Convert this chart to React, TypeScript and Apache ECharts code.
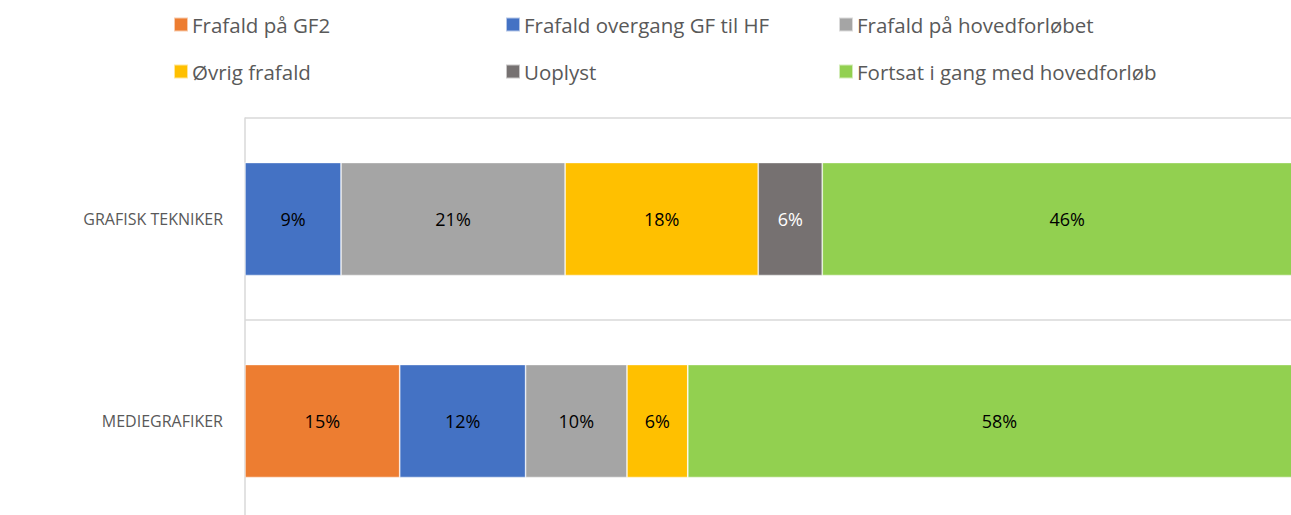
import React, { useEffect, useRef } from "react";
import * as echarts from "echarts";

const categories = ["MEDIEGRAFIKER", "GRAFISK TEKNIKER"];
const seriesNames = [
  "Frafald på GF2",
  "Frafald overgang GF til HF",
  "Frafald på hovedforløbet",
  "Øvrig frafald",
  "Uoplyst",
  "Fortsat i gang med hovedforløb",
];
const frafaldGF2 = [14.5, 0];
const frafaldOvergang = [11.8, 9.0];
const frafaldHoved = [9.5, 21.0];
const ovrigFrafald = [5.7, 18.1];
const uoplyst = [0, 6.0];
const fortsat = [58.4, 45.9];
const colors = ["#ED7D31", "#4472C4", "#A5A5A5", "#FFC000", "#767171", "#92D050"];
const labelColors = ["#000", "#000", "#000", "#000", "#fff", "#000"];

const legendPos = [
  { left: 173, top: 14 },
  { left: 505, top: 14 },
  { left: 838, top: 14 },
  { left: 173, top: 61 },
  { left: 505, top: 61 },
  { left: 838, top: 61 },
];

export default function App() {
  const ref = useRef<HTMLDivElement>(null);
  useEffect(() => {
    if (!ref.current) return;
    const chart = echarts.init(ref.current, null, { renderer: "svg" });
    const values = [frafaldGF2, frafaldOvergang, frafaldHoved, ovrigFrafald, uoplyst, fortsat];
    const font = "'Open Sans', 'Noto Sans', sans-serif";
    chart.setOption({
      animation: false,
      legend: seriesNames.map((n, i) => ({
        data: [n],
        left: legendPos[i].left,
        top: legendPos[i].top,
        icon: "rect",
        itemWidth: 14,
        itemHeight: 14,
        itemGap: 6,
        padding: 0,
        textStyle: { fontSize: 20.5, color: "#595959", fontFamily: font, padding: [0, 0, 0, -1] },
      })),
      grid: { left: 245, right: 0, top: 118, bottom: 0 },
      xAxis: { type: "value", min: 0, max: 100, show: false },
      yAxis: {
        type: "category",
        data: categories,
        axisLine: { show: true, lineStyle: { color: "#d9d9d9", width: 1.5 } },
        axisTick: { show: false },
        splitLine: { show: true, lineStyle: { color: "#d9d9d9", width: 1.5 } },
        axisLabel: { margin: 22, color: "#595959", fontSize: 16, fontFamily: font },
      },
      series: seriesNames.map((n, i) => ({
        name: n,
        type: "bar",
        stack: "total",
        barWidth: 113,
        data: values[i],
        itemStyle: { color: colors[i], borderColor: "rgba(255,255,255,0.6)", borderWidth: 0.75 },
        label: {
          show: true,
          position: "inside",
          color: labelColors[i],
          fontSize: 18,
          fontFamily: font,
          formatter: (p: any) => (p.value ? Math.round(p.value) + "%" : ""),
        },
      })),
    });
    return () => chart.dispose();
  }, []);
  return (
    <div
      ref={ref}
      style={{ position: "fixed", left: 0, top: 0, width: 1312, height: 522, background: "#fff" }}
    />
  );
}
